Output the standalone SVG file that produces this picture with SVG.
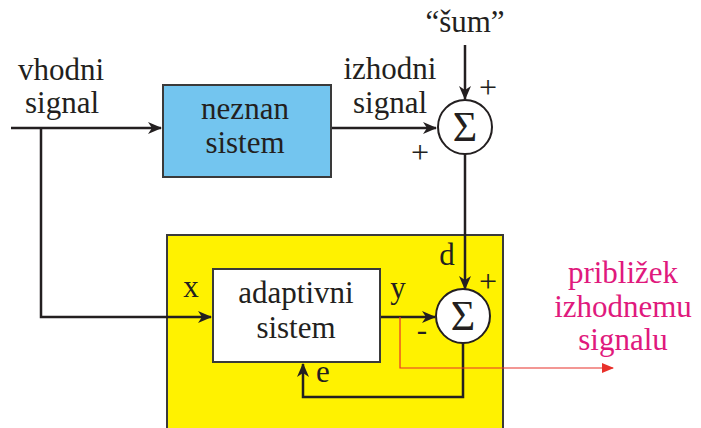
<svg xmlns="http://www.w3.org/2000/svg" width="701" height="428" viewBox="0 0 701 428">
<defs>
<marker id="ah" markerUnits="userSpaceOnUse" markerWidth="14" markerHeight="12" refX="13" refY="6" orient="auto">
<path d="M0,0 L14,6 L0,12 L4,6 Z" fill="#231f20"/>
</marker>
<marker id="ahr" markerUnits="userSpaceOnUse" markerWidth="12" markerHeight="10" refX="11" refY="5" orient="auto">
<path d="M0,0 L12,5 L0,10 Z" fill="#e8302a"/>
</marker>
</defs>
<style>
text{font-family:'Liberation Serif','DejaVu Serif',serif;fill:#231f20;font-size:31px}
.c{text-anchor:middle}
.m{fill:#e0197d}
.sig{font-size:42px}
.pm{font-size:32px}
.ln{fill:none;stroke:#231f20;stroke-width:2.5}
.box{stroke:#3a3a3a;stroke-width:2}
.sum{fill:#fff;stroke:#231f20;stroke-width:2}
</style>
<rect id="adaptive-area" x="167" y="235" width="336" height="200" fill="#fff200" stroke="#3a3a3a" stroke-width="2"/>
<g id="connectors">
<path class="ln" d="M11,128 H161" marker-end="url(#ah)"/>
<path class="ln" d="M41,128 V317 H211" marker-end="url(#ah)"/>
<path class="ln" d="M331,128 H436" marker-end="url(#ah)"/>
<path class="ln" d="M465,45 V99" marker-end="url(#ah)"/>
<path class="ln" d="M465,154 V289" marker-end="url(#ah)"/>
<path class="ln" d="M380,317 H435" marker-end="url(#ah)"/>
<path class="ln" d="M463,343 V397 H303 V364" marker-end="url(#ah)"/>
<path d="M400,317 V368 H613" fill="none" stroke="#e8302a" stroke-width="1.2" marker-end="url(#ahr)"/>
</g>
<g id="input-label">
<text class="c" x="61" y="80">vhodni</text>
<text class="c" x="62" y="113">signal</text>
</g>
<g id="neznan">
<rect class="box" x="163" y="85" width="168" height="92" fill="#73c5ef"/>
<text class="c" x="245" y="119">neznan</text>
<text class="c" x="245" y="153">sistem</text>
</g>
<g id="output-label">
<text class="c" x="390" y="79">izhodni</text>
<text class="c" x="390" y="113">signal</text>
</g>
<g id="noise-label">
<text class="c" x="465" y="32">“šum”</text>
</g>
<g id="sum1">
<circle class="sum" cx="465" cy="127" r="27"/>
<text class="c sig" x="465" y="141">Σ</text>
<text class="c pm" x="488" y="98">+</text>
<text class="c pm" x="420" y="163">+</text>
</g>
<g id="adaptive">
<rect class="box" x="213" y="269" width="167" height="93" fill="#fff"/>
<text class="c" x="296" y="303">adaptivni</text>
<text class="c" x="296" y="338">sistem</text>
</g>
<g id="sum2">
<circle class="sum" cx="463" cy="316" r="27"/>
<text class="c sig" x="463" y="330">Σ</text>
<text class="c pm" x="488" y="292">+</text>
<text class="c" x="422" y="340">-</text>
</g>
<g id="labels">
<text class="c" x="191" y="297">x</text>
<text class="c" x="398" y="298">y</text>
<text class="c" x="447" y="265">d</text>
<text class="c" x="323" y="382">e</text>
</g>
<g id="approx-label">
<text class="c m" x="623" y="283">približek</text>
<text class="c m" x="623" y="317">izhodnemu</text>
<text class="c m" x="623" y="350">signalu</text>
</g>
</svg>
